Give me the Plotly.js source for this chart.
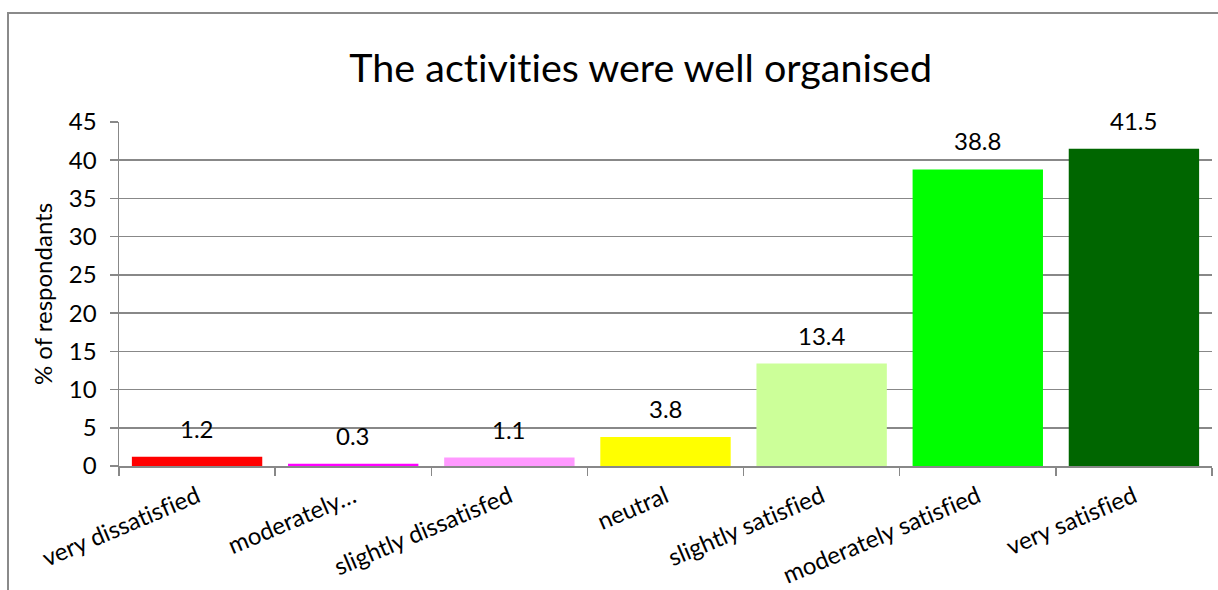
<!DOCTYPE html>
<html>
<head>
<meta charset="utf-8">
<script src="https://cdn.plot.ly/plotly-3.0.1.min.js"></script>
<style>
  html, body { margin: 0; padding: 0; background: #fff; }
  #wrap { position: relative; width: 1218px; height: 590px; overflow: hidden; }
  #chart { width: 1218px; height: 590px; }
  #frame { position: absolute; left: 7px; top: 12px; width: 1400px; height: 800px;
           border: 2px solid #8a8a8a; pointer-events: none; box-sizing: border-box; }
  svg text { font-variant-ligatures: none; font-feature-settings: "liga" 0, "clig" 0; }
</style>
</head>
<body>
<div id="wrap">
  <div id="chart"></div>
  <div id="frame"></div>
</div>
<script>
const categories = ["very dissatisfied", "moderately\u2026", "slightly dissatisfed", "neutral",
                    "slightly satisfied", "moderately satisfied", "very satisfied"];
const values = [1.2, 0.3, 1.1, 3.8, 13.4, 38.8, 41.5];
const barColors = ["#FF0000", "#FF00FF", "#FF99FF", "#FFFF00", "#CCFF99", "#00FF00", "#006600"];
const yTicks = [0, 5, 10, 15, 20, 25, 30, 35, 40, 45];

const FONT = "Lato, Carlito, Calibri, 'Open Sans', sans-serif";
const FS = 24;

const trace = {
  type: "bar",
  x: categories,
  y: values,
  marker: { color: barColors, line: { width: 0 } },
  hoverinfo: "x+y"
};

const annotations = categories.map((c, i) => ({
  x: c, y: values[i], xref: "x", yref: "y",
  text: values[i].toFixed(1),
  showarrow: false, yanchor: "bottom", yshift: 12,
  font: { family: FONT, size: FS, color: "#000" }
}));

const layout = {
  width: 1218, height: 590,
  margin: { l: 119, r: 6, t: 122, b: 124 },
  paper_bgcolor: "rgba(0,0,0,0)",
  plot_bgcolor: "rgba(0,0,0,0)",
  font: { family: FONT, size: FS, color: "#000" },
  title: {
    text: "The activities were well organised",
    font: { family: FONT, size: 39.5, color: "#000" },
    x: 0.526, xanchor: "center", xref: "container",
    y: 0.885, yanchor: "middle"
  },
  bargap: 0.165,
  showlegend: false,
  xaxis: {
    type: "category",
    tickson: "boundaries",
    ticks: "outside", ticklen: 8, tickwidth: 1.5, tickcolor: "#888",
    showline: true, linecolor: "#888", linewidth: 1.5,
    showgrid: false,
    tickangle: -23,
    ticklabelstandoff: 6,
    tickfont: { family: FONT, size: FS, color: "#000" },
    automargin: false
  },
  yaxis: {
    range: [0, 45],
    tickvals: yTicks,
    ticktext: yTicks.map(String),
    ticks: "outside", ticklen: 8, tickwidth: 1.5, tickcolor: "#888",
    showline: true, linecolor: "#888", linewidth: 1.5,
    showgrid: true, gridcolor: "#888", gridwidth: 1.5,
    zeroline: false,
    ticklabelstandoff: 8,
    tickfont: { family: FONT, size: FS, color: "#000" },
    title: { text: "% of respondants", font: { family: FONT, size: FS, color: "#000" }, standoff: 9 },
    automargin: false
  },
  annotations: annotations
};

Plotly.newPlot("chart", [trace], layout, { displayModeBar: false, staticPlot: true });
</script>
</body>
</html>
